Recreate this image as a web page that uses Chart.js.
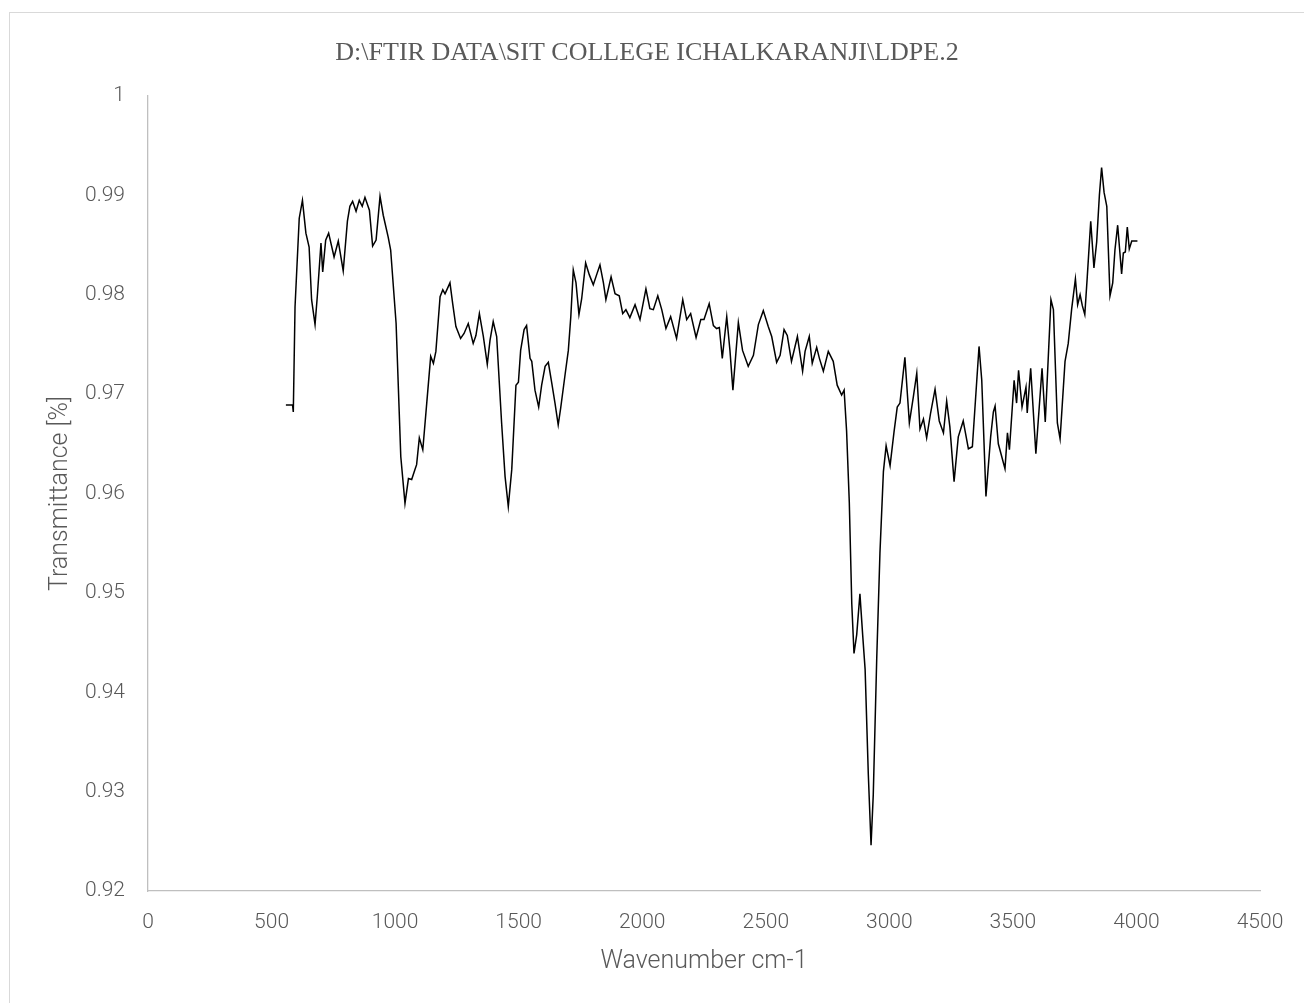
<!DOCTYPE html>
<html>
<head>
<meta charset="utf-8">
<script src="https://cdn.jsdelivr.net/npm/chart.js@4.4.1/dist/chart.umd.min.js"></script>
<style>
  html, body { margin: 0; padding: 0; background: #fff; overflow: hidden; }
  #frame { position: absolute; left: 9px; top: 12px; width: 1400px; height: 1100px; border: 1px solid #d9d9d9; }
  #wrap { position: absolute; left: 0; top: 0; width: 1304px; height: 1003px; }
</style>
</head>
<body>
<div id="frame"></div>
<div id="wrap"><canvas id="spectrum" width="1304" height="1003"></canvas></div>
<script>
// FTIR spectrum of an LDPE film
const chartTitle = 'D:\\FTIR DATA\\SIT COLLEGE ICHALKARANJI\\LDPE.2';
const xAxisTitle = 'Wavenumber cm-1';
const yAxisTitle = 'Transmittance [%]';

const xTicks = [0, 500, 1000, 1500, 2000, 2500, 3000, 3500, 4000, 4500];
const yTicks = [0.92, 0.93, 0.94, 0.95, 0.96, 0.97, 0.98, 0.99, 1];

const wavenumbers = [
  558, 585, 588, 595, 612, 625, 639, 652, 662, 676, 685, 700, 707, 719, 731, 753, 770, 790,
  807, 817, 828, 842, 855, 867, 878, 896, 909, 923, 939, 952, 972, 982, 1004, 1023, 1040,
  1054, 1067, 1080, 1087, 1098, 1112, 1128, 1144, 1155, 1165, 1182, 1193, 1202, 1222, 1233,
  1246, 1265, 1279, 1296, 1316, 1327, 1341, 1357, 1373, 1384, 1397, 1411, 1431, 1445, 1458,
  1472, 1489, 1499, 1508, 1522, 1532, 1546, 1553, 1566, 1581, 1593, 1607, 1620, 1634, 1647,
  1660, 1670, 1688, 1701, 1711, 1721, 1732, 1744, 1755, 1771, 1786, 1802, 1818, 1829, 1843,
  1853, 1874, 1890, 1907, 1921, 1934, 1950, 1971, 1991, 2015, 2031, 2045, 2063, 2079, 2096,
  2115, 2139, 2164, 2180, 2196, 2218, 2237, 2250, 2271, 2288, 2301, 2312, 2324, 2332, 2342,
  2355, 2367, 2389, 2406, 2429, 2450, 2470, 2490, 2510, 2524, 2544, 2558, 2574, 2587, 2604,
  2628, 2649, 2659, 2676, 2688, 2706, 2717, 2733, 2753, 2773, 2789, 2807, 2817, 2827, 2838,
  2848, 2857, 2868, 2881, 2892, 2902, 2915, 2926, 2935, 2949, 2962, 2976, 2987, 3003, 3019,
  3032, 3043, 3063, 3081, 3097, 3111, 3124, 3138, 3151, 3167, 3185, 3202, 3219, 3232, 3245,
  3262, 3279, 3299, 3320, 3336, 3363, 3374, 3391, 3410, 3421, 3428, 3441, 3468, 3478, 3486,
  3505, 3515, 3523, 3537, 3553, 3558, 3572, 3593, 3618, 3631, 3643, 3654, 3664, 3680, 3691,
  3711, 3724, 3738, 3753, 3762, 3772, 3781, 3791, 3801, 3815, 3828, 3839, 3850, 3859, 3869,
  3880, 3893, 3904, 3913, 3924, 3940, 3947, 3955, 3963, 3971, 3981, 4004
];

const transmittance = [
  0.9689, 0.9689, 0.9682, 0.9788, 0.9877, 0.9895, 0.9862, 0.9848, 0.9795, 0.9770, 0.9798, 0.9852, 0.9823, 0.9855, 0.9862, 0.9838, 0.9854, 0.9824,
  0.9874, 0.9889, 0.9894, 0.9884, 0.9895, 0.9889, 0.9898, 0.9885, 0.9849, 0.9855, 0.9899, 0.9880, 0.9858, 0.9845, 0.9771, 0.9637, 0.9590,
  0.9615, 0.9614, 0.9624, 0.9629, 0.9656, 0.9644, 0.9691, 0.9738, 0.9731, 0.9743, 0.9798, 0.9805, 0.9801, 0.9812, 0.9791,
  0.9768, 0.9756, 0.9761, 0.9771, 0.9751, 0.9759, 0.9781, 0.9758, 0.9730, 0.9754, 0.9773, 0.9758, 0.9671, 0.9617, 0.9587,
  0.9624, 0.9709, 0.9712, 0.9744, 0.9765, 0.9769, 0.9736, 0.9733, 0.9704, 0.9687, 0.9709, 0.9728, 0.9732, 0.9711, 0.9691,
  0.9669, 0.9686, 0.9720, 0.9744, 0.9778, 0.9825, 0.9812, 0.9780, 0.9796, 0.9832, 0.9820, 0.9810, 0.9822, 0.9830, 0.9812,
  0.9795, 0.9818, 0.9801, 0.9799, 0.9781, 0.9785, 0.9777, 0.9790, 0.9775, 0.9806, 0.9786, 0.9785, 0.9799, 0.9785, 0.9766,
  0.9778, 0.9756, 0.9795, 0.9775, 0.9781, 0.9757, 0.9775, 0.9775, 0.9791, 0.9769, 0.9766, 0.9767, 0.9736, 0.9755, 0.9778,
  0.9744, 0.9704, 0.9772, 0.9744, 0.9728, 0.9739, 0.9770, 0.9784, 0.9768, 0.9758, 0.9732, 0.9739, 0.9765, 0.9759, 0.9733,
  0.9758, 0.9723, 0.9743, 0.9758, 0.9731, 0.9747, 0.9736, 0.9723, 0.9743, 0.9733, 0.9709, 0.9699, 0.9704, 0.9663, 0.9591,
  0.9489, 0.9439, 0.9458, 0.9499, 0.9458, 0.9423, 0.9317, 0.9246, 0.9297, 0.9434, 0.9540, 0.9622, 0.9648, 0.9628, 0.9662,
  0.9687, 0.9691, 0.9737, 0.9671, 0.9697, 0.9721, 0.9665, 0.9675, 0.9656, 0.9681, 0.9705, 0.9673, 0.9661, 0.9693, 0.9667,
  0.9612, 0.9657, 0.9673, 0.9645, 0.9647, 0.9748, 0.9714, 0.9597, 0.9657, 0.9682, 0.9688, 0.9650, 0.9625, 0.9661, 0.9644,
  0.9714, 0.9691, 0.9724, 0.9687, 0.9707, 0.9681, 0.9726, 0.9640, 0.9726, 0.9672, 0.9736, 0.9795, 0.9785, 0.9671, 0.9655,
  0.9733, 0.9751, 0.9786, 0.9816, 0.9790, 0.9800, 0.9789, 0.9780, 0.9818, 0.9874, 0.9827, 0.9853, 0.9900, 0.9928, 0.9903,
  0.9889, 0.9799, 0.9812, 0.9845, 0.9870, 0.9821, 0.9842, 0.9843, 0.9868, 0.9846, 0.9854, 0.9854
];

const textColor = '#595959';
const axisColor = '#bfbfbf';
const sansFamily = 'Roboto, "Open Sans", "DejaVu Sans", sans-serif';

// Heading drawn in a serif face, centred above the plot
const headingPlugin = {
  id: 'heading',
  afterDraw(chart) {
    const ctx = chart.ctx;
    ctx.save();
    ctx.font = '26px "Liberation Serif", "Times New Roman", serif';
    ctx.fillStyle = textColor;
    ctx.textAlign = 'center';
    ctx.textBaseline = 'middle';
    ctx.fillText(chartTitle, 647, 53);
    ctx.restore();
  }
};

new Chart(document.getElementById('spectrum'), {
  type: 'line',
  data: {
    datasets: [{
      data: wavenumbers.map((w, i) => ({ x: w, y: transmittance[i] })),
      borderColor: '#000000',
      borderWidth: 1.5,
      pointRadius: 0,
      tension: 0,
      fill: false
    }]
  },
  options: {
    responsive: false,
    animation: false,
    events: [],
    layout: { padding: { top: 96, right: 44, bottom: 0, left: 0 } },
    plugins: {
      legend: { display: false },
      title: { display: false },
      tooltip: { enabled: false }
    },
    scales: {
      x: {
        type: 'linear',
        min: 0,
        max: 4500,
        afterBuildTicks: s => { s.ticks = xTicks.map(v => ({ value: v })); },
        afterFit: s => { s.height = 112; },
        grid: { display: false, drawTicks: false },
        border: { display: true, color: axisColor, width: 1.3 },
        ticks: {
          color: textColor,
          font: { family: sansFamily, size: 21, weight: '300' },
          padding: 19,
          maxRotation: 0,
          autoSkip: false,
          callback: v => String(v)
        },
        title: {
          display: true,
          text: xAxisTitle,
          color: textColor,
          font: { family: sansFamily, size: 25, weight: '300' },
          padding: { top: 0, bottom: 26 }
        }
      },
      y: {
        type: 'linear',
        min: 0.92,
        max: 1,
        afterBuildTicks: s => { s.ticks = yTicks.map(v => ({ value: v })); },
        afterFit: s => { s.width = 148; },
        grid: { display: false, drawTicks: false },
        border: { display: true, color: axisColor, width: 1.3 },
        ticks: {
          color: textColor,
          font: { family: sansFamily, size: 21, weight: '300' },
          padding: 23,
          autoSkip: false,
          callback: v => String(+Number(v).toFixed(2))
        },
        title: {
          display: true,
          text: yAxisTitle,
          color: textColor,
          font: { family: sansFamily, size: 25, weight: '300' },
          padding: { top: 46, bottom: 0 }
        }
      }
    }
  },
  plugins: [headingPlugin]
});
</script>
</body>
</html>
